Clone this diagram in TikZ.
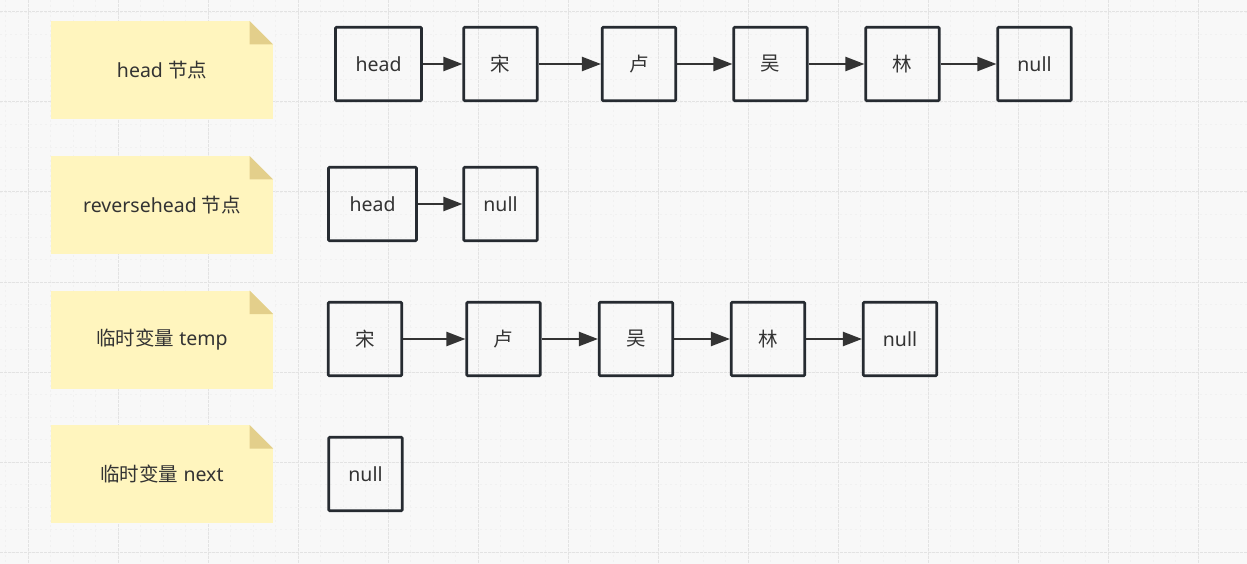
\documentclass[tikz,border=0pt]{standalone}
\usepackage{fontspec}
\setmainfont{Noto Sans}
\newfontfamily\cjk{Noto Sans CJK SC}
\usetikzlibrary{arrows.meta}
\definecolor{bgc}{HTML}{F8F8F8}
\definecolor{majorc}{HTML}{E3E3E3}
\definecolor{minorc}{HTML}{F1F1F1}
\definecolor{notec}{HTML}{FFF5BE}
\definecolor{foldc}{HTML}{E3CF8B}
\definecolor{boxc}{HTML}{262B31}
\definecolor{txtc}{HTML}{333333}
\tikzset{
  listbox/.style={draw=boxc, line width=2.6pt, rounded corners=1pt, minimum height=73.5pt,
    minimum width=73.5pt, inner sep=0pt, text=txtc, font=\fontsize{19.5}{22}\selectfont},
  notebox/.style={minimum width=222pt, minimum height=98pt, inner sep=0pt, fill=notec,
    text=txtc, font=\fontsize{19.5}{22}\selectfont,
    path picture={
      \fill[bgc] ([xshift=-23.5pt]path picture bounding box.north east) -- (path picture bounding box.north east) -- ([yshift=-23.5pt]path picture bounding box.north east) -- cycle;
      \fill[foldc] ([xshift=-23.5pt]path picture bounding box.north east) -- ([xshift=-23.5pt,yshift=-23.5pt]path picture bounding box.north east) -- ([yshift=-23.5pt]path picture bounding box.north east) -- cycle;
    }},
  link/.style={draw=txtc, line width=2.2pt, -{Triangle[length=19pt,width=14pt]}}
}
\begin{document}
\begin{tikzpicture}[x=1pt,y=-1pt]
\fill[bgc] (0,0) rectangle (1247,564);
\useasboundingbox (0,0) rectangle (1247,564);
% minor grid
\foreach \i in {0,...,56} {
  \draw[minorc, line width=0.6pt, dash pattern=on 2pt off 3pt] ({28-90+22.5*\i},0) -- ({28-90+22.5*\i},564);
}
\foreach \i in {0,...,26} {
  \draw[minorc, line width=0.6pt, dash pattern=on 2pt off 3pt] (0,{12-22.5+22.5*\i}) -- (1247,{12-22.5+22.5*\i});
}
% major grid
\foreach \i in {0,...,13} {
  \draw[majorc, line width=1pt, dash pattern=on 3pt off 1pt] ({28+90*\i},0) -- ({28+90*\i},564);
}
\foreach \i in {0,...,6} {
  \draw[majorc, line width=1pt, dash pattern=on 3pt off 1pt] (0,{12+90*\i}) -- (1247,{12+90*\i});
}
% notes
\node[notebox] (n1) at (162,70) {head {\cjk 节点}};
\node[notebox] (n2) at (162,205) {reversehead {\cjk 节点}};
\node[notebox] (n3) at (162,339.5) {{\cjk 临时变量} temp};
\node[notebox] (n4) at (162,474) {{\cjk 临时变量} next};
% row 1
\node[listbox, minimum width=86pt] (a1) at (378.5,64) {head};
\node[listbox] (a2) at (500.5,64) {\cjk 宋};
\node[listbox] (a3) at (639,64) {\cjk 卢};
\node[listbox] (a4) at (770.5,64) {\cjk 吴};
\node[listbox] (a5) at (902.5,64) {\cjk 林};
\node[listbox] (a6) at (1034.5,64) {null};
\draw[link] (a1) -- (a2);
\draw[link] (a2) -- (a3);
\draw[link] (a3) -- (a4);
\draw[link] (a4) -- (a5);
\draw[link] (a5) -- (a6);
% row 2
\node[listbox, minimum width=88pt] (b1) at (372.5,204) {head};
\node[listbox] (b2) at (500.5,204) {null};
\draw[link] (b1) -- (b2);
% row 3
\node[listbox] (c1) at (365,339) {\cjk 宋};
\node[listbox] (c2) at (503.5,339) {\cjk 卢};
\node[listbox] (c3) at (636,339) {\cjk 吴};
\node[listbox] (c4) at (768,339) {\cjk 林};
\node[listbox] (c5) at (900,339) {null};
\draw[link] (c1) -- (c2);
\draw[link] (c2) -- (c3);
\draw[link] (c3) -- (c4);
\draw[link] (c4) -- (c5);
% row 4
\node[listbox] (d1) at (365.5,474) {null};
\end{tikzpicture}
\end{document}
